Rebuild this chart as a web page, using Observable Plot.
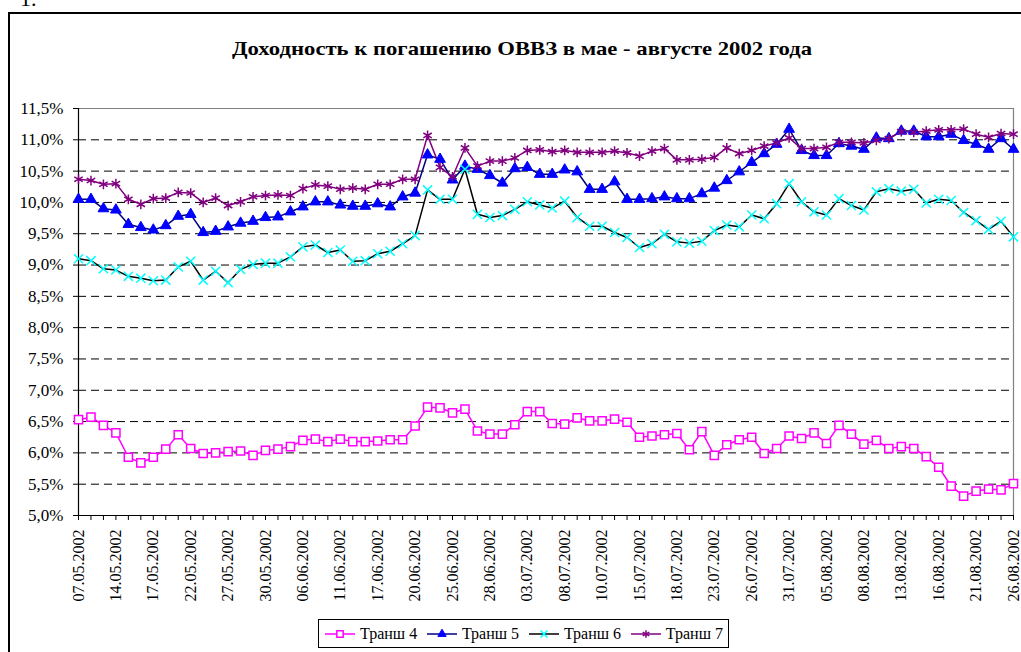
<!DOCTYPE html>
<html><head><meta charset="utf-8">
<script src="https://cdn.jsdelivr.net/npm/d3@7"></script>
<script src="https://cdn.jsdelivr.net/npm/@observablehq/plot@0.6"></script>
<style>
body{margin:0;background:#fff;}
#wrap{position:relative;width:1021px;height:652px;overflow:hidden;font-family:"Liberation Serif","DejaVu Serif",serif;background:#fff;}
#frame{position:absolute;left:8px;top:12px;width:1040px;height:680px;border:2px solid #000;box-sizing:border-box;}
#fig{position:absolute;left:20px;top:-14px;font-size:22px;}
#title{position:absolute;left:522px;top:38px;font-weight:bold;font-size:19px;white-space:nowrap;transform-origin:0 0;}
#chart{position:absolute;left:0;top:0;}
#legend{position:absolute;left:318px;top:619px;width:411px;height:29px;border:1px solid #000;box-sizing:border-box;display:flex;align-items:center;justify-content:space-between;font-size:16px;padding:0 5px;white-space:nowrap;}
#legend .item{display:flex;align-items:center;flex-shrink:0;}
#legend svg{margin-right:4px;}
</style>
</head><body>
<div id="wrap">
  <div id="fig">1.</div>
  <div id="frame"></div>
  <div id="title">Доходность к погашению ОВВЗ в мае - августе 2002 года</div>
  <div id="chart"></div>
  <div id="legend"></div>
</div>
<script>
// Tick labels (every third trading day)
const tickLabels = ["07.05.2002","14.05.2002","17.05.2002","22.05.2002","27.05.2002","30.05.2002","06.06.2002","11.06.2002","17.06.2002","20.06.2002","25.06.2002","28.06.2002","03.07.2002","08.07.2002","10.07.2002","15.07.2002","18.07.2002","23.07.2002","26.07.2002","31.07.2002","05.08.2002","08.08.2002","13.08.2002","16.08.2002","21.08.2002","26.08.2002"];
const yTicks = [5.0,5.5,6.0,6.5,7.0,7.5,8.0,8.5,9.0,9.5,10.0,10.5,11.0,11.5];

// Series (yield, %)
const t4 = [6.53,6.57,6.44,6.32,5.93,5.84,5.93,6.06,6.29,6.07,5.99,6.00,6.02,6.03,5.96,6.04,6.06,6.10,6.20,6.22,6.18,6.22,6.18,6.18,6.19,6.21,
            6.21,6.43,6.73,6.72,6.64,6.70,6.35,6.30,6.30,6.45,6.66,6.66,6.47,6.46,6.56,6.51,6.51,6.54,6.49,6.25,6.27,6.29,6.31,6.05,6.34,
            5.96,6.13,6.21,6.25,5.99,6.07,6.27,6.23,6.32,6.15,6.44,6.30,6.14,6.20,6.07,6.10,6.07,5.94,5.77,5.47,5.31,5.39,5.42,5.41,5.51];
const t5 = [10.05,10.05,9.90,9.88,9.65,9.60,9.56,9.63,9.78,9.81,9.52,9.54,9.61,9.67,9.70,9.76,9.77,9.85,9.93,10.01,10.01,9.96,9.94,9.94,9.98,9.93,
            10.09,10.15,10.76,10.69,10.36,10.58,10.53,10.43,10.31,10.54,10.56,10.45,10.45,10.52,10.49,10.21,10.21,10.33,10.05,10.05,10.06,10.09,10.06,10.06,10.14,
            10.23,10.35,10.49,10.64,10.78,10.93,11.17,10.83,10.75,10.75,10.94,10.90,10.85,11.03,11.02,11.14,11.14,11.05,11.05,11.09,10.99,10.93,10.85,11.02,10.85];
const t6 = [9.10,9.07,8.94,8.92,8.82,8.79,8.75,8.76,8.97,9.06,8.76,8.90,8.72,8.93,9.01,9.03,9.03,9.13,9.29,9.32,9.20,9.24,9.06,9.07,9.18,9.22,
            9.34,9.47,10.20,10.05,10.05,10.53,9.81,9.76,9.79,9.89,10.01,9.96,9.91,10.02,9.76,9.62,9.62,9.52,9.44,9.28,9.34,9.49,9.37,9.35,9.38,
            9.55,9.64,9.61,9.80,9.74,9.98,10.30,10.01,9.85,9.80,10.06,9.95,9.88,10.17,10.22,10.18,10.21,9.99,10.05,10.03,9.84,9.71,9.57,9.70,9.45];
const t7 = [10.37,10.35,10.29,10.30,10.05,9.97,10.06,10.07,10.16,10.15,10.00,10.07,9.95,10.01,10.09,10.11,10.12,10.11,10.22,10.28,10.26,10.21,10.23,10.21,10.29,10.29,
            10.37,10.37,11.07,10.56,10.41,10.87,10.58,10.66,10.66,10.71,10.83,10.84,10.81,10.83,10.80,10.80,10.80,10.82,10.79,10.74,10.82,10.86,10.68,10.68,10.69,
            10.72,10.87,10.78,10.83,10.90,10.95,11.03,10.86,10.86,10.88,10.96,10.96,10.95,10.99,11.02,11.13,11.12,11.14,11.16,11.16,11.17,11.09,11.04,11.10,11.09];

const seriesNames = ["Транш 4","Транш 5","Транш 6","Транш 7"];
const seriesStyle = [
  {vals:t4, line:"#ff00ff", symbol:"square",   fill:"#ffffff", stroke:"#ff00ff", r:4.6, sw:1.5},
  {vals:t5, line:"#000080", symbol:"triangle", fill:"#0000ff", stroke:"#0000ff", r:4.0, sw:1},
  {vals:t6, line:"#000000", symbol:"times",    fill:"none",    stroke:"#00ffff", r:4.2, sw:1.5},
  {vals:t7, line:"#800080", symbol:"asterisk", fill:"none",    stroke:"#800080", r:4.6, sw:1.5}
];

const n = t4.length;
const idx = d3.range(n);
const fmt = d => d.toFixed(1).replace(".", ",") + "%";
const serif = "'Liberation Serif','DejaVu Serif',serif";

const marks = [
  Plot.ruleY(yTicks.filter(v => v > 5 && v < 11.5), {stroke:"#000", strokeWidth:1, strokeDasharray:"8,5"}),
  Plot.ruleY([11.5], {stroke:"#808080", strokeWidth:1.2}),
  Plot.ruleX([n-1], {stroke:"#808080", strokeWidth:1.2}),
  Plot.ruleX([0], {stroke:"#000", strokeWidth:1.2}),
  Plot.ruleY([5], {stroke:"#000", strokeWidth:1.2}),
  Plot.axisY({ticks:yTicks, tickFormat:fmt, tickSize:5, tickPadding:10, fontSize:17, fontFamily:serif, label:null}),
  Plot.axisX({ticks:idx, tickFormat:() => "", tickSize:5, label:null}),
  Plot.axisX({ticks:d3.range(0, n, 3), tickFormat:i => tickLabels[i/3], tickSize:0, tickPadding:14, tickRotate:-90, fontSize:16, fontFamily:serif, label:null})
];
for (const s of seriesStyle) {
  marks.push(Plot.line(s.vals, {x:(d,i)=>i, y:d=>d, stroke:s.line, strokeWidth:1.5}));
}
for (const s of seriesStyle) {
  marks.push(Plot.dot(s.vals, {x:(d,i)=>i, y:d=>d, symbol:s.symbol, r:s.r, fill:s.fill, stroke:s.stroke, strokeWidth:s.sw}));
}

const chart = Plot.plot({
  width:1021, height:620,
  marginTop:108, marginBottom:105, marginLeft:78, marginRight:8,
  style:{fontFamily:serif, fontSize:"16px", color:"#000", background:"transparent", overflow:"visible"},
  x:{type:"linear", domain:[0, n-1]},
  y:{type:"linear", domain:[5, 11.5]},
  marks
});
document.getElementById("chart").appendChild(chart);

// Title: stretch to the reference's width (~580px), centred at x=522
const title = document.getElementById("title");
const w = title.getBoundingClientRect().width;
const sx = 580 / w;
title.style.transform = `translateX(${-290}px) scaleX(${sx})`;

// Legend
const leg = document.getElementById("legend");
const symPath = {square:d3.symbolSquare, triangle:d3.symbolTriangle, times:d3.symbolTimes, asterisk:d3.symbolAsterisk};
seriesStyle.forEach((s, k) => {
  const item = document.createElement("div");
  item.className = "item";
  const area = Math.PI * s.r * s.r * 0.6;
  const p = d3.symbol(symPath[s.symbol], area)();
  item.innerHTML = `<svg width="32" height="14"><line x1="1" y1="7" x2="31" y2="7" stroke="${s.line}" stroke-width="1.5"/>` +
    `<path d="${p}" transform="translate(16,7)" fill="${s.fill}" stroke="${s.stroke}" stroke-width="${s.sw}"/></svg>`;
  const t = document.createElement("span");
  t.textContent = seriesNames[k];
  item.appendChild(t);
  leg.appendChild(item);
});
</script>
</body></html>
